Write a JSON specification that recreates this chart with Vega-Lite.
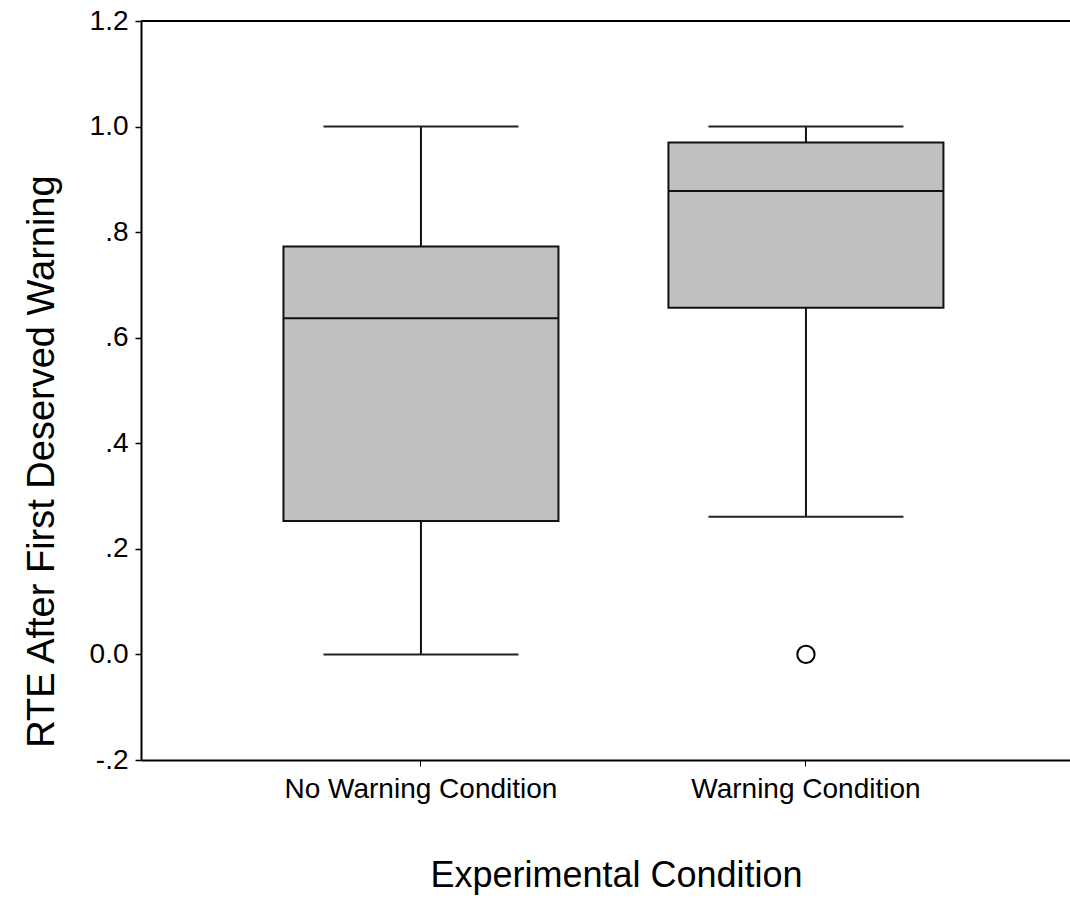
{
  "$schema": "https://vega.github.io/schema/vega-lite/v6.json",
  "width": 929,
  "height": 739,
  "autosize": {"type": "none"},
  "padding": {"left": 141, "top": 21, "right": 0, "bottom": 138},
  "background": "white",
  "config": {"view": {"stroke": null}, "font": "Liberation Sans"},
  "datasets": {
    "boxes": [
      {"condition": "No Warning Condition", "min": 0.0, "q1": 0.253, "median": 0.637, "q3": 0.773, "max": 1.0},
      {"condition": "Warning Condition", "min": 0.261, "q1": 0.657, "median": 0.878, "q3": 0.970, "max": 1.0}
    ],
    "outliers": [
      {"condition": "Warning Condition", "value": 0.0}
    ]
  },
  "data": {"name": "boxes"},
  "resolve": {"scale": {"x": "shared", "y": "shared"}},
  "layer": [
    {
      "mark": {"type": "rule", "color": "#111111", "strokeWidth": 2},
      "encoding": {
        "x": {
          "field": "condition",
          "type": "nominal",
          "scale": {"type": "band", "paddingInner": 0, "paddingOuter": 0.2065, "align": 0.55},
          "axis": {
            "labelAngle": 0,
            "labelFontSize": 28,
            "labelColor": "black",
            "labelPadding": 9,
            "labelLimit": 0,
            "tickSize": 6,
            "tickWidth": 1,
            "tickColor": "black",
            "domainColor": "black",
            "domainWidth": 2,
            "grid": false,
            "title": "Experimental Condition",
            "titleFontSize": 36,
            "titleFontWeight": "normal",
            "titleColor": "black",
            "titleX": 475,
            "titleY": 126,
            "titleBaseline": "alphabetic",
            "titleAlign": "center",
            "titleLimit": 0
          }
        },
        "y": {
          "field": "min",
          "type": "quantitative",
          "scale": {"domain": [-0.2, 1.2], "nice": false, "zero": false},
          "axis": {
            "values": [-0.2, 0, 0.2, 0.4, 0.6, 0.8, 1.0, 1.2],
            "labelExpr": "datum.value == 0 ? '0.0' : abs(datum.value) >= 1 ? format(datum.value, '.1f') : (datum.value < 0 ? '-' : '') + substring(format(abs(datum.value), '.1f'), 1)",
            "labelFontSize": 28,
            "labelColor": "black",
            "labelPadding": 7,
            "tickSize": 6,
            "tickWidth": 1.5,
            "tickColor": "black",
            "domainColor": "black",
            "domainWidth": 2,
            "grid": false,
            "title": "RTE After First Deserved Warning",
            "titleFontSize": 38,
            "titleFontWeight": "normal",
            "titleColor": "black",
            "titleX": -88,
            "titleY": 440,
            "titleAngle": -90,
            "titleBaseline": "alphabetic",
            "titleAlign": "center",
            "titleLimit": 0
          }
        },
        "y2": {"field": "q1"}
      }
    },
    {
      "mark": {"type": "rule", "color": "#111111", "strokeWidth": 2},
      "encoding": {
        "x": {"field": "condition", "type": "nominal"},
        "y": {"field": "q3", "type": "quantitative"},
        "y2": {"field": "max"}
      }
    },
    {
      "mark": {"type": "bar", "size": 275, "fill": "#c0c0c0", "stroke": "#111111", "strokeWidth": 2},
      "encoding": {
        "x": {"field": "condition", "type": "nominal"},
        "y": {"field": "q1", "type": "quantitative"},
        "y2": {"field": "q3"}
      }
    },
    {
      "mark": {"type": "tick", "size": 275, "thickness": 2, "color": "#111111", "opacity": 1},
      "encoding": {
        "x": {"field": "condition", "type": "nominal"},
        "y": {"field": "median", "type": "quantitative"}
      }
    },
    {
      "mark": {"type": "tick", "size": 195, "thickness": 2, "color": "#222222", "opacity": 1},
      "encoding": {
        "x": {"field": "condition", "type": "nominal"},
        "y": {"field": "min", "type": "quantitative"}
      }
    },
    {
      "mark": {"type": "tick", "size": 195, "thickness": 2, "color": "#222222", "opacity": 1},
      "encoding": {
        "x": {"field": "condition", "type": "nominal"},
        "y": {"field": "max", "type": "quantitative"}
      }
    },
    {
      "data": {"name": "outliers"},
      "mark": {"type": "point", "shape": "circle", "size": 300, "filled": false, "stroke": "black", "strokeWidth": 2, "opacity": 1},
      "encoding": {
        "x": {"field": "condition", "type": "nominal"},
        "y": {"field": "value", "type": "quantitative"}
      }
    },
    {
      "mark": {"type": "rule", "color": "black", "strokeWidth": 2},
      "encoding": {
        "y": {"datum": 1.2}
      }
    }
  ]
}
